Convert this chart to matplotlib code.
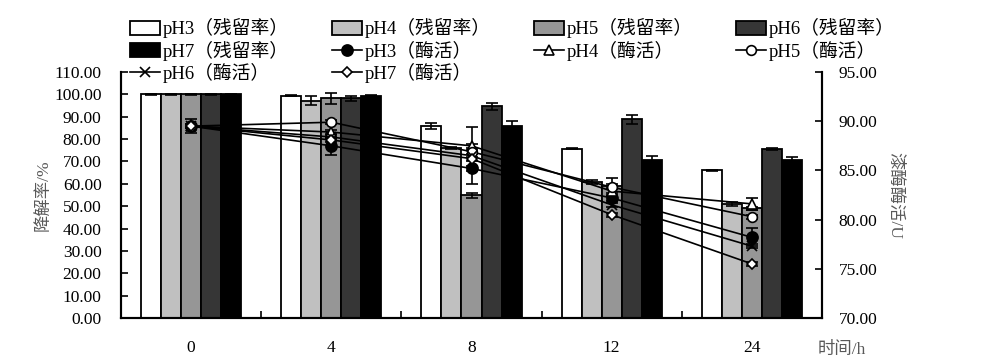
import numpy as np
import matplotlib
matplotlib.use("Agg")
import matplotlib.pyplot as plt
from matplotlib.lines import Line2D
from matplotlib.patches import Patch

plt.rcParams['font.family'] = ['Liberation Serif', 'Noto Sans CJK SC']

# --- данные ---
times = ["0", "4", "8", "12", "24"]
ph_names = ["pH3", "pH4", "pH5", "pH6", "pH7"]

res_ph3 = [100.0, 99.5, 86.0, 75.8, 66.0]
res_ph4 = [100.0, 97.2, 76.2, 60.8, 51.0]
res_ph5 = [100.0, 98.2, 54.8, 59.0, 49.0]
res_ph6 = [100.0, 98.2, 94.6, 88.8, 75.6]
res_ph7 = [100.0, 99.5, 85.8, 70.8, 70.8]

res_err_ph3 = [0.4, 0.4, 1.3, 0.4, 0.3]
res_err_ph4 = [0.4, 2.0, 0.5, 0.8, 1.0]
res_err_ph5 = [0.4, 2.6, 1.0, 1.0, 0.5]
res_err_ph6 = [0.4, 1.2, 1.5, 2.2, 0.5]
res_err_ph7 = [0.4, 0.4, 2.2, 1.8, 1.2]

act_ph3 = [89.5, 87.5, 85.2, 82.2, 78.2]
act_ph4 = [89.5, 88.9, 87.5, 82.9, 81.6]
act_ph5 = [89.5, 89.9, 86.9, 83.3, 80.3]
act_ph6 = [89.5, 88.4, 86.5, 81.5, 77.3]
act_ph7 = [89.5, 88.1, 86.2, 80.5, 75.5]

act_err_ph3 = [0.7, 0.9, 0.3, 0.3, 0.9]
act_err_ph4 = [0.2, 0.2, 0.2, 0.2, 0.6]
act_err_ph5 = [0.2, 0.2, 0.2, 0.9, 0.2]
act_err_ph6 = [0.2, 0.2, 2.9, 0.2, 0.2]
act_err_ph7 = [0.2, 0.2, 0.2, 0.2, 0.2]

residuals = [res_ph3, res_ph4, res_ph5, res_ph6, res_ph7]
res_errs = [res_err_ph3, res_err_ph4, res_err_ph5, res_err_ph6, res_err_ph7]
activities = [act_ph3, act_ph4, act_ph5, act_ph6, act_ph7]
act_errs = [act_err_ph3, act_err_ph4, act_err_ph5, act_err_ph6, act_err_ph7]

bar_colors = ["white", "#c0c0c0", "#969696", "#363636", "black"]
markers = [dict(marker="o", mfc="black", ms=8),
           dict(marker="^", mfc="white", ms=7),
           dict(marker="o", mfc="white", ms=7),
           dict(marker="x", mfc="black", ms=7),
           dict(marker="D", mfc="white", ms=5)]

fig = plt.figure(figsize=(10, 3.62), dpi=100)
ax = fig.add_axes([0.121, 0.1215, 0.701, 0.6795])
ax2 = ax.twinx()

centers = np.arange(len(times)) + 0.5
bw = 0.143
handles = []
for i in range(5):
    xpos = centers + (i - 2) * bw
    ax.bar(xpos, residuals[i], bw, color=bar_colors[i], edgecolor="black",
           linewidth=1.3, yerr=res_errs[i], capsize=4,
           error_kw=dict(ecolor="black", elinewidth=1.2, capthick=1.2), zorder=2)
    handles.append(Patch(facecolor=bar_colors[i], edgecolor="black", linewidth=1.3,
                         label=f"{ph_names[i]}（残留率）"))

for i in range(5):
    ax2.errorbar(centers, activities[i], yerr=act_errs[i], color="black",
                 lw=1.2, capsize=4, capthick=1.2, elinewidth=1.2,
                 mec="black", mew=1.2, zorder=3, **markers[i])
    handles.append(Line2D([], [], color="black", lw=1.2, mec="black", mew=1.2,
                          label=f"{ph_names[i]}（酶活）", **markers[i]))

ax.set_xlim(0, 5)
ax.set_ylim(0, 110)
ax.set_yticks(np.arange(0, 111, 10))
ax.set_yticklabels([f"{v:.2f}" for v in np.arange(0, 111, 10)])
ax.set_xticks(centers)
ax.set_xticklabels(times)
ax.set_xticks(np.arange(1, 5), minor=True)
ax.tick_params(axis="x", which="major", length=0, pad=16, labelsize=12.5)
ax.tick_params(axis="x", which="minor", direction="in", length=5, width=1.2)
ax.tick_params(axis="y", direction="in", length=5, width=1.2, pad=14, labelsize=12.5)

ax2.set_ylim(70, 95)
ax2.set_yticks(np.arange(70, 96, 5))
ax2.set_yticklabels([f"{v:.2f}" for v in np.arange(70, 96, 5)])
ax2.tick_params(axis="y", direction="in", length=5, width=1.2, pad=12, labelsize=12.5)

for a in (ax, ax2):
    a.spines["top"].set_visible(False)
    for s in ("left", "right", "bottom"):
        a.spines[s].set_linewidth(1.5)

ax.set_ylabel("降解率/%", color="#595959", fontsize=12.5, labelpad=2)
ax2.set_ylabel("漆酶酶活/U", color="#595959", fontsize=12.5, rotation=270, labelpad=18)
fig.text(0.842, 0.033, "时间/h", color="#595959", fontsize=12.5, ha="center", va="center")

# порядок по строкам для legend с 4 колонками
order = [0, 4, 8, 1, 5, 9, 2, 6, 3, 7]
fig.legend(handles=[handles[k] for k in order], ncol=4, loc="upper left",
           bbox_to_anchor=(0.121, 0.975), frameon=False, fontsize=13.5,
           handlelength=1.6, handleheight=0.8, handletextpad=0.15,
           columnspacing=2.3, labelspacing=0.12, borderpad=0)

plt.savefig("out.png", dpi=100)
